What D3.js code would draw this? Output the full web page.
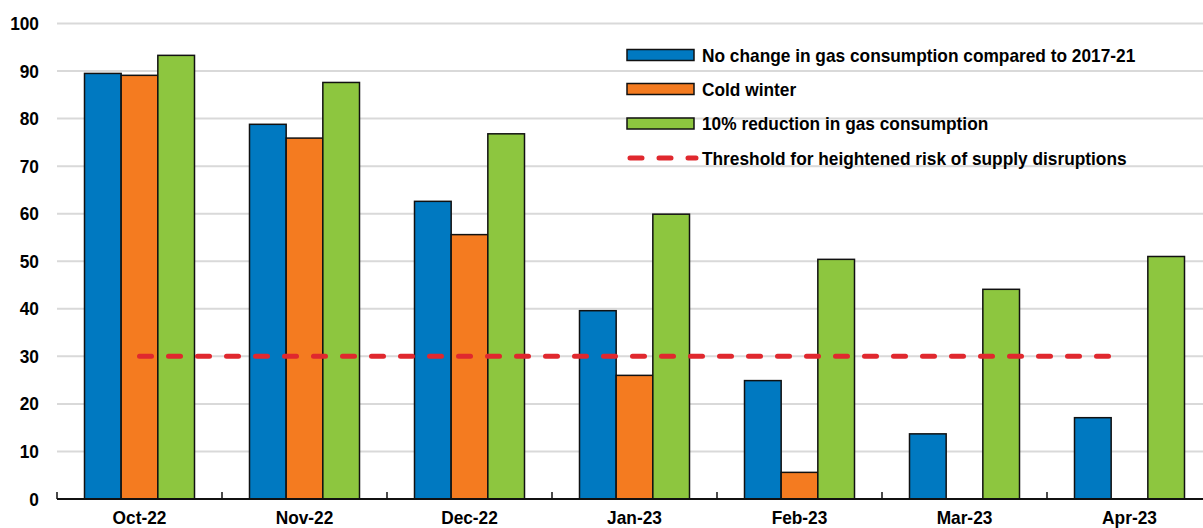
<!DOCTYPE html>
<html>
<head>
<meta charset="utf-8">
<script src="https://cdn.jsdelivr.net/npm/d3@7"></script>
<style>
  body { margin: 0; background: #fff; }
  text { font-family: "Liberation Sans", Arial, sans-serif; font-weight: bold; fill: #000; }
</style>
</head>
<body>
<div id="chart"></div>
<script>
const months = ["Oct-22", "Nov-22", "Dec-22", "Jan-23", "Feb-23", "Mar-23", "Apr-23"];
const seriesNames = [
  "No change in gas consumption compared to 2017-21",
  "Cold winter",
  "10% reduction in gas consumption"
];
const noChange = [89.5, 78.8, 62.6, 39.6, 24.9, 13.7, 17.1];
const coldWinter = [89.1, 75.9, 55.6, 26.0, 5.6, 0, 0];
const reduction = [93.3, 87.6, 76.8, 59.9, 50.4, 44.1, 51.0];
const threshold = 30;
const thresholdName = "Threshold for heightened risk of supply disruptions";
const yTicks = [0, 10, 20, 30, 40, 50, 60, 70, 80, 90, 100];

const colors = ["#0079C1", "#F47B20", "#8DC63F"];
const width = 1203, height = 528;
const squeeze = 0.91; // narrow-font look

const svg = d3.select("#chart").append("svg")
  .attr("width", width).attr("height", height);

const x = d3.scaleBand().domain(months).range([57, 57 + 7 * 165]).padding(0);
const y = d3.scaleLinear().domain([0, 100]).range([499, 23.5]);
const xSub = d3.scaleBand().domain([0, 1, 2])
  .range([0, x.bandwidth()]).paddingOuter(0.75).paddingInner(0);

function narrow(sel) {
  sel.each(function () {
    const len = this.getComputedTextLength();
    d3.select(this).attr("textLength", len * squeeze).attr("lengthAdjust", "spacingAndGlyphs");
  });
}

// gridlines
svg.append("g").selectAll("line").data(yTicks.filter(d => d > 0)).enter()
  .append("line")
  .attr("x1", 57).attr("x2", width)
  .attr("y1", d => y(d)).attr("y2", d => y(d))
  .style("stroke", "#d9d9d9").style("stroke-width", 2);

// y labels
svg.append("g").selectAll("text").data(yTicks).enter()
  .append("text")
  .attr("x", 39).attr("y", d => y(d))
  .attr("text-anchor", "end").attr("dominant-baseline", "central")
  .style("font-size", "19px")
  .text(d => d)
  .call(narrow);

// bars
const seriesData = [noChange, coldWinter, reduction];
const groups = svg.append("g").selectAll("g").data(months).enter()
  .append("g")
  .attr("transform", d => "translate(" + x(d) + ",0)");

groups.selectAll("rect")
  .data((m, i) => seriesData.map((s, k) => ({ k: k, v: s[i] })).filter(d => d.v > 0))
  .enter().append("rect")
  .attr("x", d => xSub(d.k))
  .attr("width", xSub.bandwidth())
  .attr("y", d => y(d.v))
  .attr("height", d => y(0) - y(d.v))
  .style("fill", d => colors[d.k])
  .style("stroke", "#111")
  .style("stroke-width", 1.5);

// x axis baseline and ticks
svg.append("line")
  .attr("x1", 57).attr("x2", width)
  .attr("y1", y(0)).attr("y2", y(0))
  .style("stroke", "#111").style("stroke-width", 2);

svg.append("g").selectAll("line").data(months).enter()
  .append("line")
  .attr("x1", d => x(d)).attr("x2", d => x(d))
  .attr("y1", y(0)).attr("y2", y(0) - 7)
  .style("stroke", "#111").style("stroke-width", 1.5);

svg.append("g").selectAll("text").data(months).enter()
  .append("text")
  .attr("x", d => x(d) + x.bandwidth() / 2)
  .attr("y", 517)
  .attr("text-anchor", "middle").attr("dominant-baseline", "central")
  .style("font-size", "19px")
  .text(d => d)
  .call(narrow);

// threshold line
svg.append("line")
  .attr("x1", x(months[0]) + x.bandwidth() / 2)
  .attr("x2", x(months[months.length - 1]) + x.bandwidth() / 2 - 10)
  .attr("y1", y(threshold)).attr("y2", y(threshold))
  .style("stroke", "#E0282E").style("stroke-width", 5)
  .style("stroke-linecap", "round")
  .style("stroke-dasharray", "12,17");

// legend
const legendY = [55, 89, 123.5, 158];
const legend = svg.append("g");
seriesNames.forEach((name, i) => {
  legend.append("rect")
    .attr("x", 627).attr("y", legendY[i] - 5.5)
    .attr("width", 67).attr("height", 11)
    .style("fill", colors[i]).style("stroke", "#111").style("stroke-width", 1.5);
  legend.append("text")
    .attr("x", 702).attr("y", legendY[i])
    .attr("dominant-baseline", "central")
    .style("font-size", "19px")
    .text(name)
    .call(narrow);
});
legend.append("line")
  .attr("x1", 630).attr("x2", 696)
  .attr("y1", legendY[3]).attr("y2", legendY[3])
  .style("stroke", "#E0282E").style("stroke-width", 5)
  .style("stroke-linecap", "round")
  .style("stroke-dasharray", "12,17");
legend.append("text")
  .attr("x", 702).attr("y", legendY[3])
  .attr("dominant-baseline", "central")
  .style("font-size", "19px")
  .text(thresholdName)
  .call(narrow);
</script>
</body>
</html>
